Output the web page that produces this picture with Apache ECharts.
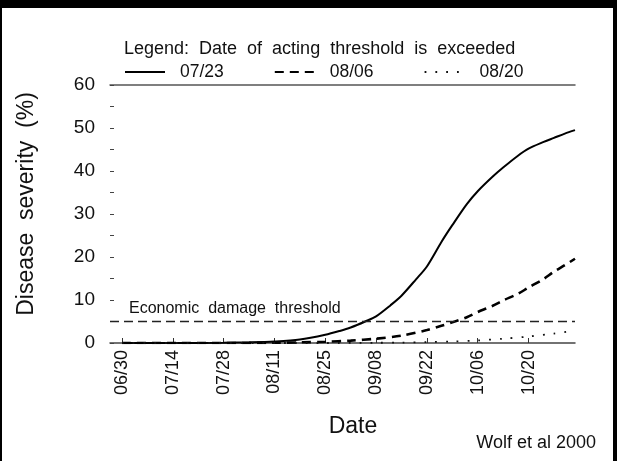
<!DOCTYPE html>
<html>
<head>
<meta charset="utf-8">
<script src="https://cdn.jsdelivr.net/npm/echarts@6/dist/echarts.min.js"></script>
<style>
html,body{margin:0;padding:0;background:#fff;}
#chart{width:617px;height:461px;}
</style>
</head>
<body>
<div id="chart"></div>
<script>
// Days counted from 06/30
const tickDays = [0, 14, 28, 42, 56, 70, 84, 98, 112];
const tickLabels = ['06/30', '07/14', '07/28', '08/11', '08/25', '09/08', '09/22', '10/06', '10/20'];
const yTicks = [0, 10, 20, 30, 40, 50, 60];
const seriesNames = ['07/23', '08/06', '08/20'];

const solidDays = [0, 14, 28, 35, 42, 49, 56, 60, 63, 67, 70, 74, 77, 81, 84, 88, 91, 95, 98, 102, 105, 109, 112, 116, 119, 122, 124.8];
const solidVals = [0, 0, 0.05, 0.15, 0.35, 0.8, 1.9, 2.8, 3.6, 5.0, 6.2, 8.8, 11, 14.8, 17.8, 23.5, 27.4, 32.3, 35.3, 38.6, 40.8, 43.5, 45.2, 46.7, 47.7, 48.7, 49.5];

const dashDays = [0, 14, 28, 42, 49, 56, 63, 70, 77, 84, 88, 91, 95, 98, 102, 105, 109, 112, 116, 119, 122, 124.8];
const dashVals = [0, 0, 0, 0.05, 0.15, 0.3, 0.55, 1.0, 1.7, 3.0, 4.0, 4.8, 6.0, 7.2, 8.6, 9.9, 11.4, 12.9, 14.8, 16.6, 18.1, 19.6];

const dotDays = [0, 56, 70, 77, 84, 91, 98, 105, 112, 119, 124.8];
const dotVals = [0, 0, 0.05, 0.1, 0.2, 0.35, 0.6, 1.0, 1.5, 2.2, 2.9];

const thresholdValue = 5;
const xMin = -3.3, xMax = 124.8;

function pairs(xs, ys) { return xs.map((x, i) => [x, ys[i]]); }

const FONT = "'Liberation Sans', Arial, sans-serif";
const chart = echarts.init(document.getElementById('chart'), null, {renderer: 'canvas'});

chart.setOption({
  animation: false,
  backgroundColor: '#fff',
  textStyle: {fontFamily: FONT, color: '#111'},
  title: {
    text: 'Legend:  Date  of  acting  threshold  is  exceeded',
    left: 124, top: 40, padding: 0,
    textStyle: {fontFamily: FONT, fontSize: 18, fontWeight: 'normal', color: '#111'}
  },
  legend: {
    data: seriesNames,
    left: 124, top: 63, padding: 0,
    itemWidth: 40, itemHeight: 14, itemGap: 50,
    itemStyle: {color: 'rgba(0,0,0,0)', borderWidth: 0, opacity: 0},
    textStyle: {fontFamily: FONT, fontSize: 17.5, color: '#111', padding: [0, 0, 0, 10]}
  },
  grid: {left: 110, right: 42, top: 85, bottom: 118, containLabel: false, outerBoundsMode: 'none'},
  xAxis: [{
    type: 'value', min: xMin, max: xMax,
    name: 'Date', nameLocation: 'middle', nameGap: 72,
    nameTextStyle: {fontFamily: FONT, fontSize: 23, color: '#111', padding: [0, 0, 0, 21]},
    axisLine: {show: true, onZero: false, lineStyle: {color: '#444', width: 1.5}},
    axisTick: {show: true, inside: true, length: 5, customValues: tickDays, lineStyle: {color: '#333', width: 1}},
    axisLabel: {
      show: true, rotate: 90, margin: 7, customValues: tickDays,
      fontFamily: FONT, fontSize: 18, color: '#111',
      formatter: v => { const i = tickDays.indexOf(v); return i >= 0 ? tickLabels[i] : ''; }
    },
    splitLine: {show: false}
  }, {
    type: 'value', position: 'top', min: xMin, max: xMax,
    axisLine: {show: true, onZero: false, lineStyle: {color: '#555', width: 1.5}},
    axisTick: {show: false}, axisLabel: {show: false}, splitLine: {show: false}
  }],
  yAxis: {
    type: 'value', min: 0, max: 60, interval: 10,
    name: 'Disease  severity  (%)', nameLocation: 'middle', nameGap: 72, nameRotate: 90,
    nameTextStyle: {fontFamily: FONT, fontSize: 23, color: '#111', padding: [0, 0, 0, 20]},
    axisLine: {show: false, onZero: false},
    axisTick: {show: true, inside: true, length: 4, customValues: [0,5,10,15,20,25,30,35,40,45,50,55,60], lineStyle: {color: '#444', width: 1}},
    axisLabel: {show: true, margin: 15, customValues: yTicks, fontFamily: FONT, fontSize: 19, color: '#111'},
    splitLine: {show: false}
  },
  series: [{
    name: seriesNames[0], type: 'line', smooth: 0.3, symbol: 'none',
    data: pairs(solidDays, solidVals),
    lineStyle: {color: '#000', width: 2, type: 'solid'},
    itemStyle: {color: '#000'},
    markLine: {
      silent: true, symbol: 'none',
      data: [{yAxis: thresholdValue}],
      lineStyle: {color: '#222', width: 1.3, type: [9, 5]},
      label: {
        show: true, position: 'insideStartTop', distance: 5,
        formatter: 'Economic  damage  threshold',
        fontFamily: FONT, fontSize: 16, color: '#111', padding: [0, 0, 0, 14]
      }
    }
  }, {
    name: seriesNames[1], type: 'line', smooth: 0.3, symbol: 'none',
    data: pairs(dashDays, dashVals),
    lineStyle: {color: '#000', width: 2.6, type: [9, 6]},
    itemStyle: {color: '#000'}
  }, {
    name: seriesNames[2], type: 'line', smooth: 0.3, symbol: 'none',
    data: pairs(dotDays, dotVals),
    lineStyle: {color: '#111', width: 1.8, type: [1.8, 9]},
    itemStyle: {color: '#111'}
  }],
  graphic: [
    {type: 'rect', left: 0, top: 0, shape: {width: 617, height: 8}, style: {fill: '#000'}, silent: true},
    {type: 'rect', left: 0, top: 0, shape: {width: 2, height: 461}, style: {fill: '#000'}, silent: true},
    {type: 'rect', right: 0, top: 0, shape: {width: 4, height: 461}, style: {fill: '#000'}, silent: true},
    {type: 'text', right: 21, top: 434, style: {text: 'Wolf et al 2000', fontFamily: FONT, fontSize: 18, fill: '#111'}}
  ]
});
</script>
</body>
</html>
